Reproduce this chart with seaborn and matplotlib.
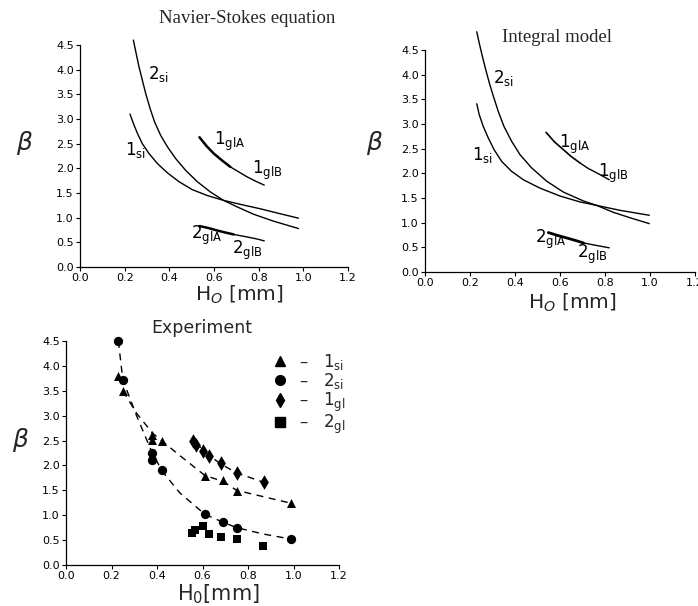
import matplotlib
matplotlib.use("Agg")
import matplotlib.pyplot as plt
import seaborn as sns
import pandas as pd
from matplotlib.lines import Line2D

sns.set_theme(style="ticks")
plt.rcParams['font.family'] = ['DejaVu Sans']
plt.rcParams['mathtext.fontset'] = 'dejavusans'

# ---------------- data: Navier-Stokes panel ----------------
ns_2si_x = [0.239, 0.250, 0.264, 0.279, 0.294, 0.314, 0.334, 0.361, 0.391, 0.428, 0.473,
            0.525, 0.584, 0.643, 0.703, 0.777, 0.866, 0.978]
ns_2si_y = [4.60, 4.36, 4.06, 3.79, 3.52, 3.21, 2.94, 2.67, 2.44, 2.20, 1.96,
            1.73, 1.52, 1.35, 1.22, 1.07, 0.93, 0.78]
ns_1si_x = [0.224, 0.239, 0.257, 0.279, 0.309, 0.346, 0.391, 0.443, 0.502, 0.569, 0.643,
            0.718, 0.807, 0.896, 0.978]
ns_1si_y = [3.10, 2.91, 2.71, 2.50, 2.30, 2.10, 1.91, 1.73, 1.57, 1.45, 1.35,
            1.27, 1.18, 1.08, 0.99]
ns_1glA_x = [0.535, 0.567, 0.599, 0.636, 0.673]
ns_1glA_y = [2.63, 2.45, 2.30, 2.16, 2.03]
ns_1glB_x = [0.673, 0.710, 0.747, 0.786, 0.825]
ns_1glB_y = [2.03, 1.93, 1.83, 1.74, 1.66]
ns_2glA_x = [0.535, 0.575, 0.614, 0.650, 0.688]
ns_2glA_y = [0.83, 0.79, 0.74, 0.70, 0.66]
ns_2glB_x = [0.688, 0.747, 0.790, 0.825]
ns_2glB_y = [0.66, 0.61, 0.57, 0.53]

# ---------------- data: Integral model panel ----------------
im_2si_x = [0.230, 0.241, 0.255, 0.270, 0.286, 0.304, 0.326, 0.351, 0.385, 0.422, 0.474,
            0.541, 0.615, 0.704, 0.763, 0.837, 0.911, 0.997]
im_2si_y = [4.87, 4.64, 4.37, 4.10, 3.83, 3.56, 3.25, 2.95, 2.65, 2.38, 2.11,
            1.84, 1.62, 1.44, 1.35, 1.21, 1.10, 0.98]
im_1si_x = [0.230, 0.241, 0.259, 0.281, 0.307, 0.341, 0.385, 0.437, 0.511, 0.600, 0.689,
            0.763, 0.867, 0.997]
im_1si_y = [3.41, 3.19, 2.95, 2.72, 2.48, 2.24, 2.04, 1.87, 1.70, 1.54, 1.42,
            1.35, 1.25, 1.15]
im_1glA_x = [0.538, 0.575, 0.615, 0.650, 0.689]
im_1glA_y = [2.83, 2.64, 2.48, 2.34, 2.21]
im_1glB_x = [0.689, 0.725, 0.763, 0.819]
im_1glB_y = [2.21, 2.10, 2.01, 1.87]
im_2glA_x = [0.548, 0.590, 0.630, 0.668, 0.704]
im_2glA_y = [0.80, 0.74, 0.69, 0.64, 0.59]
im_2glB_x = [0.704, 0.760, 0.819]
im_2glB_y = [0.59, 0.54, 0.49]

# ---------------- data: Experiment panel ----------------
ex_1si_x = [0.23, 0.25, 0.38, 0.38, 0.42, 0.61, 0.69, 0.75, 0.99]
ex_1si_y = [3.80, 3.50, 2.62, 2.52, 2.50, 1.78, 1.71, 1.48, 1.24]
ex_2si_x = [0.23, 0.25, 0.38, 0.38, 0.42, 0.61, 0.69, 0.75, 0.99]
ex_2si_y = [4.50, 3.72, 2.25, 2.10, 1.90, 1.02, 0.86, 0.74, 0.52]
ex_1gl_x = [0.56, 0.57, 0.60, 0.63, 0.68, 0.75, 0.87]
ex_1gl_y = [2.50, 2.42, 2.30, 2.18, 2.05, 1.85, 1.67]
ex_2gl_x = [0.555, 0.565, 0.60, 0.63, 0.68, 0.75, 0.865]
ex_2gl_y = [0.65, 0.70, 0.78, 0.63, 0.57, 0.52, 0.38]
# dashed fit lines
fit_1si_x = [0.25, 0.31, 0.38, 0.42, 0.50, 0.61, 0.69, 0.75, 0.87, 0.99]
fit_1si_y = [3.50, 3.05, 2.65, 2.50, 2.20, 1.80, 1.68, 1.50, 1.37, 1.24]
fit_2si_x = [0.23, 0.25, 0.31, 0.37, 0.42, 0.50, 0.61, 0.69, 0.75, 0.87, 0.99]
fit_2si_y = [4.50, 3.72, 3.00, 2.35, 1.90, 1.45, 1.02, 0.86, 0.75, 0.62, 0.52]
fit_1gl_x = [0.57, 0.63, 0.68, 0.75, 0.87]
fit_1gl_y = [2.45, 2.20, 2.03, 1.85, 1.66]

series_names = ["1si", "2si", "1gl", "2gl"]
legend_labels = [r"–   $\mathregular{1_{si}}$", r"–   $\mathregular{2_{si}}$",
                 r"–   $\mathregular{1_{gl}}$", r"–   $\mathregular{2_{gl}}$"]

xticks = [0.0, 0.2, 0.4, 0.6, 0.8, 1.0, 1.2]
yticks = [0.0, 0.5, 1.0, 1.5, 2.0, 2.5, 3.0, 3.5, 4.0, 4.5]

W, H = 698, 606
fig = plt.figure(figsize=(W / 100, H / 100), dpi=100)
fig.patch.set_facecolor("white")


def make_axes(left, top, right, bottom):
    return fig.add_axes([left / W, 1 - bottom / H, (right - left) / W, (bottom - top) / H])


ax1 = make_axes(80, 45, 348, 267)
ax2 = make_axes(425, 50, 695, 272)
ax3 = make_axes(66, 341, 339, 565)


def style_axes(ax):
    ax.set_facecolor("white")
    ax.set_xlim(0, 1.2)
    ax.set_ylim(0, 4.5)
    ax.set_xticks(xticks)
    ax.set_yticks(yticks)
    ax.set_xticklabels([f"{t:.1f}" for t in xticks])
    ax.set_yticklabels([f"{t:.1f}" for t in yticks])
    ax.tick_params(axis="both", direction="out", length=3, width=0.8, labelsize=8,
                   pad=1.5, colors="black")
    for s in ["top", "right"]:
        ax.spines[s].set_visible(False)
    for s in ["left", "bottom"]:
        ax.spines[s].set_color("black")
        ax.spines[s].set_linewidth(0.9)
    ax.grid(False)
    ax.set_xlabel("")
    ax.set_ylabel("")


def curve(ax, x, y, lw=1.0):
    sns.lineplot(x=x, y=y, ax=ax, color="black", lw=lw, sort=True, estimator=None,
                 clip_on=False)


def lab(ax, x, y, s):
    ax.text(x, y, s, fontsize=12, ha="center", va="center", color="black")


# ---- panel 1 ----
curve(ax1, ns_2si_x, ns_2si_y)
curve(ax1, ns_1si_x, ns_1si_y)
curve(ax1, ns_1glA_x, ns_1glA_y, 1.8)
curve(ax1, ns_1glB_x, ns_1glB_y, 1.0)
curve(ax1, ns_2glA_x, ns_2glA_y, 1.8)
curve(ax1, ns_2glB_x, ns_2glB_y, 1.0)
style_axes(ax1)
lab(ax1, 0.35, 3.92, r"$\mathregular{2_{si}}$")
lab(ax1, 0.25, 2.37, r"$\mathregular{1_{si}}$")
lab(ax1, 0.67, 2.54, r"$\mathregular{1_{glA}}$")
lab(ax1, 0.84, 1.96, r"$\mathregular{1_{glB}}$")
lab(ax1, 0.565, 0.64, r"$\mathregular{2_{glA}}$")
lab(ax1, 0.75, 0.34, r"$\mathregular{2_{glB}}$")
ax1.text(0.623, 1.12, "Navier-Stokes equation", transform=ax1.transAxes, ha="center",
         va="center", fontsize=13.5, family="Liberation Serif")
ax1.text(0.593, -0.125, r"H$_O$ [mm]", transform=ax1.transAxes, ha="center", va="center",
         fontsize=14.5)
ax1.text(-0.205, 0.56, r"$\beta$", transform=ax1.transAxes, ha="center", va="center",
         fontsize=18)

# ---- panel 2 ----
curve(ax2, im_2si_x, im_2si_y)
curve(ax2, im_1si_x, im_1si_y)
curve(ax2, im_1glA_x, im_1glA_y, 1.2)
curve(ax2, im_1glB_x, im_1glB_y, 1.0)
curve(ax2, im_2glA_x, im_2glA_y, 2.0)
curve(ax2, im_2glB_x, im_2glB_y, 1.0)
style_axes(ax2)
lab(ax2, 0.35, 3.93, r"$\mathregular{2_{si}}$")
lab(ax2, 0.255, 2.38, r"$\mathregular{1_{si}}$")
lab(ax2, 0.665, 2.58, r"$\mathregular{1_{glA}}$")
lab(ax2, 0.835, 2.0, r"$\mathregular{1_{glB}}$")
lab(ax2, 0.56, 0.66, r"$\mathregular{2_{glA}}$")
lab(ax2, 0.745, 0.36, r"$\mathregular{2_{glB}}$")
ax2.text(0.489, 1.058, "Integral model", transform=ax2.transAxes, ha="center",
         va="center", fontsize=13.5, family="Liberation Serif")
ax2.text(0.544, -0.14, r"H$_O$ [mm]", transform=ax2.transAxes, ha="center", va="center",
         fontsize=14.5)
ax2.text(-0.185, 0.58, r"$\beta$", transform=ax2.transAxes, ha="center", va="center",
         fontsize=18)

# ---- panel 3 ----
for fx, fy in [(fit_1si_x, fit_1si_y), (fit_2si_x, fit_2si_y), (fit_1gl_x, fit_1gl_y)]:
    sns.lineplot(x=fx, y=fy, ax=ax3, color="black", lw=1.0, sort=False, estimator=None,
                 dashes=False, linestyle=(0, (5, 4)))

df = pd.concat([
    pd.DataFrame({"H": ex_1si_x, "beta": ex_1si_y, "series": "1si"}),
    pd.DataFrame({"H": ex_2si_x, "beta": ex_2si_y, "series": "2si"}),
    pd.DataFrame({"H": ex_1gl_x, "beta": ex_1gl_y, "series": "1gl"}),
    pd.DataFrame({"H": ex_2gl_x, "beta": ex_2gl_y, "series": "2gl"}),
], ignore_index=True)
markers = {"1si": "^", "2si": "o", "1gl": "d", "2gl": "s"}
sizes = {"1si": 42, "2si": 45, "1gl": 55, "2gl": 36}
for name in series_names:
    sub = df[df["series"] == name]
    sns.scatterplot(data=sub, x="H", y="beta", ax=ax3, color="black", marker=markers[name],
                    s=sizes[name], edgecolor="black", linewidth=0, legend=False, zorder=3,
                    clip_on=False)
style_axes(ax3)

handles = [Line2D([], [], color="black", marker=markers[n], linestyle="none", markersize=7)
           for n in series_names]
leg = ax3.legend(handles, legend_labels, loc="upper left", bbox_to_anchor=(0.73, 0.98),
                 frameon=False, fontsize=12, handletextpad=0.6, labelspacing=-0.05,
                 handlelength=1.0, borderaxespad=0)
ax3.text(0.496, 1.06, "Experiment", transform=ax3.transAxes, ha="center", va="center",
         fontsize=12.5)
ax3.text(0.558, -0.13, r"H$_\mathregular{0}$[mm]", transform=ax3.transAxes, ha="center",
         va="center", fontsize=15)
ax3.text(-0.165, 0.56, r"$\beta$", transform=ax3.transAxes, ha="center", va="center",
         fontsize=18)

fig.savefig("out.png", dpi=100, facecolor="white")
